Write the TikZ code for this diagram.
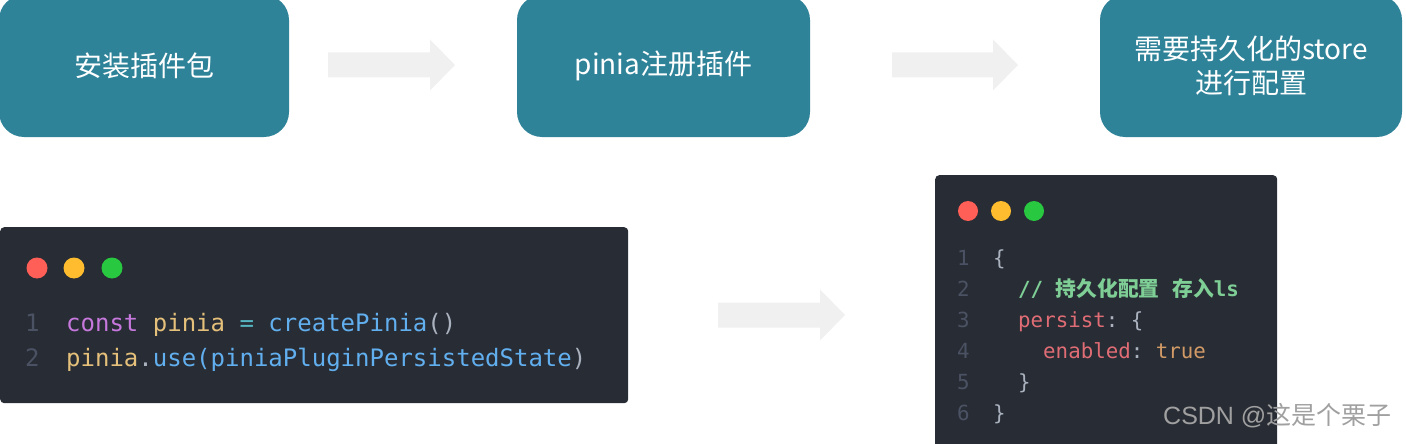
\documentclass[tikz,border=0pt]{standalone}
\usepackage{fontspec}
\setmainfont{Noto Sans CJK SC}
\newfontfamily\cjk{Noto Sans CJK SC}
\newfontfamily\codefont{DejaVu Sans Mono}
\newfontfamily\wmfont{Liberation Sans}
\definecolor{tealbox}{RGB}{47,131,153}
\definecolor{arrowfill}{RGB}{240,240,240}
\definecolor{codebg}{RGB}{40,44,52}
\definecolor{dred}{RGB}{255,95,87}
\definecolor{dyel}{RGB}{254,188,46}
\definecolor{dgrn}{RGB}{40,200,64}
\definecolor{cnum}{RGB}{75,82,99}
\definecolor{ckw}{RGB}{198,120,221}
\definecolor{cvar}{RGB}{229,192,123}
\definecolor{cop}{RGB}{86,182,194}
\definecolor{cfn}{RGB}{97,175,239}
\definecolor{cpun}{RGB}{171,178,191}
\definecolor{ccom}{RGB}{126,206,150}
\definecolor{cprop}{RGB}{224,108,117}
\definecolor{cbool}{RGB}{209,154,102}
\definecolor{wmgray}{RGB}{160,160,160}
\newcommand{\fatarrow}[4]{% name, x0, x1, yc
  \coordinate (#1) at (#2,#4);
  \fill[arrowfill] (#2,#4-12.5) -- (#3-25,#4-12.5) -- (#3-25,#4-25.5) -- (#3,#4)
    -- (#3-25,#4+25.5) -- (#3-25,#4+12.5) -- (#2,#4+12.5) -- cycle;}
\tikzset{
  stepbox/.style={fill=tealbox, rounded corners=25pt, text=white,
    font=\cjk\fontsize{28}{34}\selectfont, align=center, inner sep=0pt},
  codebox/.style={fill=codebg, rounded corners=4pt, anchor=north west, inner sep=0pt},
  dot/.style={circle, minimum size=21pt, inner sep=0pt},
  codeL/.style={anchor=base west, inner sep=0pt, font=\codefont\fontsize{24}{28}\selectfont},
  codeR/.style={anchor=base west, inner sep=0pt, font=\codefont\fontsize{20.8}{25}\selectfont},
}
\begin{document}
\begin{tikzpicture}[x=1pt,y=-1pt]
\useasboundingbox (0,0) rectangle (1406,444);
\clip (0,0) rectangle (1406,444);
% top step boxes
\node[stepbox, minimum width=290pt, minimum height=142pt] (s1) at (144,66) {安装插件包};
\node[stepbox, minimum width=293pt, minimum height=142pt] (s2) at (663.5,66) {pinia注册插件};
\node[stepbox, minimum width=302pt, minimum height=142pt] (s3) at (1251,66) {需要持久化的store\\进行配置};
% arrows
\fatarrow{a1}{328}{455}{65}
\fatarrow{a2}{892}{1018}{65}
\fatarrow{a3}{718}{845}{315}
% left code box
\node[codebox, minimum width=628pt, minimum height=176pt] (c1) at (0,227) {};
\node[dot, fill=dred] (c1r) at (37,268) {};
\node[dot, fill=dyel] (c1y) at (74,268) {};
\node[dot, fill=dgrn] (c1g) at (112,268) {};
\node[codeL, text=cnum] (l1n) at (25,331) {1};
\node[codeL, text=cnum] (l2n) at (25,366) {2};
\node[codeL] (l1) at (66,331) {\textcolor{ckw}{const}\textcolor{cpun}{~}\textcolor{cvar}{pinia}~\textcolor{cop}{=}~\textcolor{cfn}{createPinia}\textcolor{cpun}{()}};
\node[codeL] (l2) at (66,366) {\textcolor{cvar}{pinia}\textcolor{cpun}{.}\textcolor{cfn}{use(piniaPluginPersistedState}\textcolor{cpun}{)}};
% right code box
\node[codebox, minimum width=342pt, minimum height=285pt] (c2) at (935,175) {};
\node[dot, fill=dred, minimum size=20pt] (c2r) at (968,211) {};
\node[dot, fill=dyel, minimum size=20pt] (c2y) at (1001,211) {};
\node[dot, fill=dgrn, minimum size=20pt] (c2g) at (1034,211) {};
\node[codeR, text=cnum] (r1n) at (957,265) {1};
\node[codeR, text=cnum] (r2n) at (957,296) {2};
\node[codeR, text=cnum] (r3n) at (957,327) {3};
\node[codeR, text=cnum] (r4n) at (957,358) {4};
\node[codeR, text=cnum] (r5n) at (957,389) {5};
\node[codeR, text=cnum] (r6n) at (957,420) {6};
\node[codeR, text=cpun] (r1) at (993,265) {\{};
\node[codeR, text=ccom] (r2) at (1018,296) {\bfseries //~{\cjk\bfseries 持久化配置}~{\cjk\bfseries 存入}ls};
\node[codeR] (r3) at (1018,327) {\textcolor{cprop}{persist}\textcolor{cpun}{:~\{}};
\node[codeR] (r4) at (1043,358) {\textcolor{cprop}{enabled}\textcolor{cpun}{:}~\textcolor{cbool}{true}};
\node[codeR, text=cpun] (r5) at (1018,389) {\}};
\node[codeR, text=cpun] (r6) at (993,420) {\}};
% watermark
\node[anchor=base west, inner sep=0pt, text=wmgray, font=\wmfont\fontsize{25}{30}\selectfont] (wm) at (1163,424) {CSDN @{\cjk 这是个栗子}};
\end{tikzpicture}
\end{document}
